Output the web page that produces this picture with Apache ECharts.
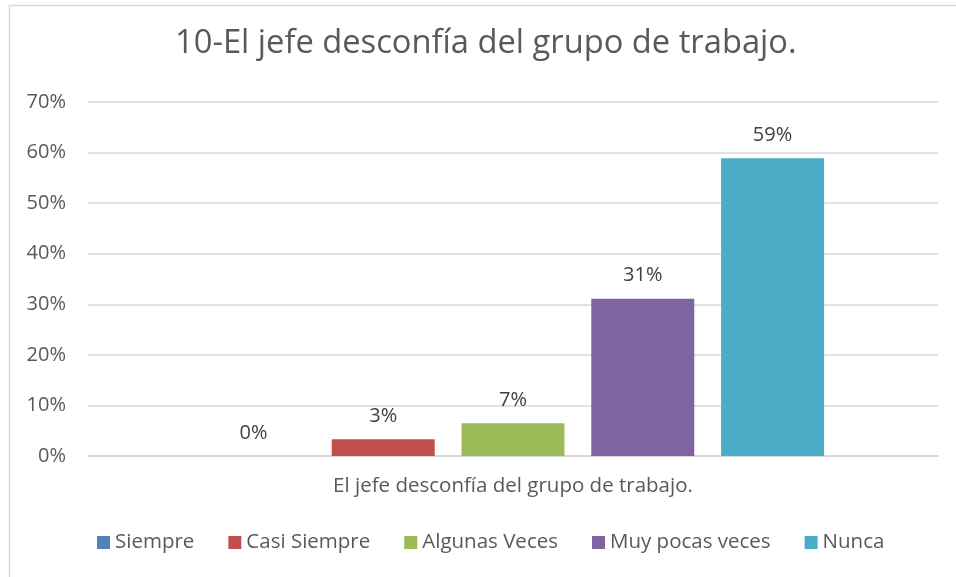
<!DOCTYPE html>
<html lang="es">
<head>
<meta charset="UTF-8">
<title></title>
<style>
    html, body { margin: 0; padding: 0; background: #fff; }
    #chart { width: 956px; height: 577px; }
</style>
</head>
<body>
<div id="chart"></div>
<script src="https://cdn.jsdelivr.net/npm/echarts@6/dist/echarts.min.js"></script>
<script>
    var categories = ['El jefe desconfía del grupo de trabajo.'];
    var seriesNames = ['Siempre', 'Casi Siempre', 'Algunas Veces', 'Muy pocas veces', 'Nunca'];
    var seriesValues = [0, 3.3, 6.5, 31.1, 58.9];
    var colors = ['#4f81bd', '#c0504d', '#9bbb59', '#8064a2', '#4bacc6'];

    var font = '"Open Sans", sans-serif';
    var myChart = echarts.init(document.getElementById('chart'));

    var series = seriesNames.map(function (name, i) {
        return {
            name: name,
            type: 'bar',
            data: [seriesValues[i]],
            barWidth: 103,
            barGap: '26%',
            itemStyle: { color: colors[i] },
            label: {
                show: true,
                position: 'top',
                distance: 13,
                color: '#404040',
                fontFamily: font,
                fontSize: 20,
                formatter: function (p) { return Math.round(p.value) + '%'; }
            }
        };
    });

    var option = {
        animation: false,
        backgroundColor: '#fff',
        graphic: [{
            type: 'rect',
            left: 7, top: 3,
            shape: { width: 960, height: 590 },
            style: { fill: 'none', stroke: '#d9d9d9', lineWidth: 1.5 }
        }],
        title: {
            text: '10-El jefe desconfía del grupo de trabajo.',
            left: 175,
            top: 27,
            padding: 0,
            textStyle: { color: '#595959', fontFamily: font, fontSize: 32.7, fontWeight: 'normal' }
        },
        legend: {
            data: seriesNames,
            left: 97,
            top: 532,
            padding: 0,
            itemWidth: 13,
            itemHeight: 13,
            itemGap: 34,
            icon: 'rect',
            textStyle: { color: '#595959', fontFamily: font, fontSize: 20.5 }
        },
        grid: { left: 88, right: 18, top: 102, bottom: 121, containLabel: false },
        xAxis: {
            type: 'category',
            data: categories,
            axisLine: { lineStyle: { color: '#d9d9d9', width: 2 } },
            axisTick: { show: false },
            axisLabel: { color: '#595959', fontFamily: font, fontSize: 20.5, margin: 20 }
        },
        yAxis: {
            type: 'value',
            min: 0,
            max: 70,
            interval: 10,
            axisLine: { show: false },
            axisTick: { show: false },
            axisLabel: {
                color: '#595959', fontFamily: font, fontSize: 20, margin: 22,
                formatter: '{value}%'
            },
            splitLine: { lineStyle: { color: '#d9d9d9', width: 1.5 } }
        },
        series: series
    };

    myChart.setOption(option);
</script>
</body>
</html>
